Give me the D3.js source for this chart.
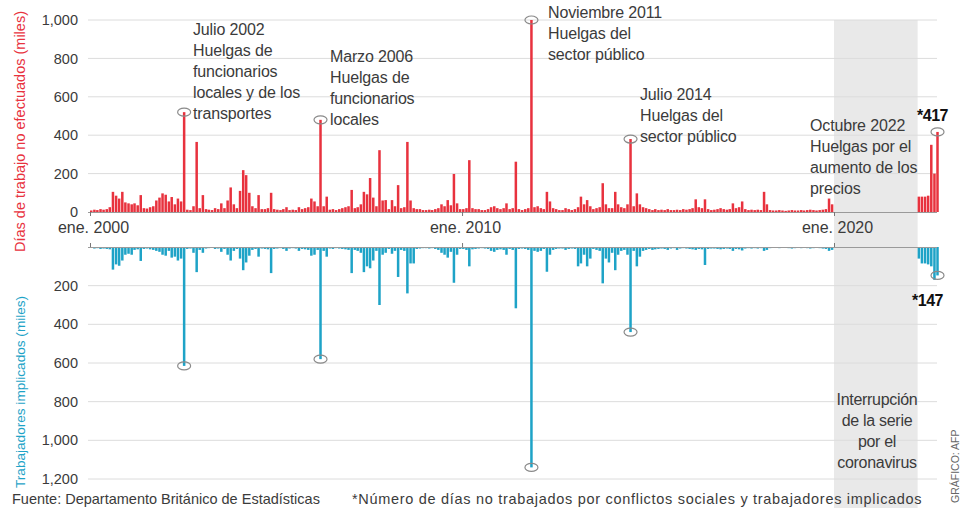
<!DOCTYPE html>
<html><head><meta charset="utf-8">
<script src="https://cdn.jsdelivr.net/npm/d3@7"></script>
<style>
body{margin:0;background:#fff}
svg{display:block}
text{font-family:"Liberation Sans",Arial,sans-serif}
</style>
</head><body>
<svg id="c" width="969" height="508"></svg>
<script>
// ---- DATA (miles) ----
const dias_2000_2019 = [
  8, 12, 10, 15, 12, 15, 25, 105, 85, 70, 105, 50,      // 2000
  45, 40, 45, 35, 88, 20, 18, 25, 30, 60, 75, 97,       // 2001
  90, 55, 78, 40, 70, 55, 520, 12, 10, 30, 365, 20,     // 2002
  88, 15, 12, 10, 20, 15, 45, 20, 60, 128, 40, 20,      // 2003
  110, 218, 192, 100, 30, 20, 88, 15, 15, 20, 100, 15,  // 2004
  12, 10, 15, 25, 10, 12, 10, 25, 15, 20, 25, 70,       // 2005
  55, 30, 480, 30, 80, 12, 15, 10, 15, 20, 25, 30,      // 2006
  115, 20, 25, 40, 105, 92, 177, 75, 30, 322, 60, 62,   // 2007
  15, 62, 30, 140, 20, 25, 365, 60, 20, 15, 15, 10,     // 2008
  10, 12, 10, 15, 20, 40, 30, 62, 35, 198, 45, 15,      // 2009
  15, 20, 270, 20, 15, 15, 10, 10, 15, 25, 30, 20,      // 2010
  15, 20, 45, 15, 20, 262, 15, 10, 15, 20, 1000, 25,    // 2011
  30, 20, 15, 105, 55, 20, 15, 10, 10, 20, 15, 10,      // 2012
  15, 25, 80, 40, 62, 30, 15, 20, 25, 150, 40, 20,      // 2013
  20, 105, 40, 25, 20, 40, 380, 30, 97, 40, 25, 20,     // 2014
  15, 10, 15, 10, 12, 10, 15, 10, 10, 12, 10, 15,       // 2015
  12, 15, 20, 66, 25, 20, 66, 15, 10, 12, 15, 20,       // 2016
  15, 12, 15, 45, 20, 25, 55, 15, 10, 12, 10, 12,       // 2017
  10, 105, 40, 10, 8, 8, 10, 8, 6, 8, 10, 8,            // 2018
  8, 10, 8, 10, 12, 10, 8, 10, 12, 15, 70, 40           // 2019
];
const trab_2000_2019 = [
  5, 8, 6, 10, 8, 10, 12, 117, 90, 97, 70, 40,          // 2000
  35, 40, 15, 12, 72, 10, 8, 12, 15, 20, 25, 40,        // 2001
  45, 20, 55, 50, 70, 60, 615, 10, 8, 30, 130, 15,      // 2002
  30, 8, 6, 5, 10, 8, 25, 10, 40, 70, 20, 10,           // 2003
  60, 120, 80, 45, 15, 10, 50, 8, 10, 12, 135, 10,      // 2004
  8, 6, 10, 20, 8, 6, 8, 20, 10, 12, 15, 45,            // 2005
  40, 15, 580, 20, 50, 8, 10, 6, 8, 10, 12, 15,         // 2006
  135, 15, 20, 30, 130, 100, 110, 70, 20, 300, 40, 30,  // 2007
  10, 35, 20, 155, 15, 20, 240, 85, 85, 10, 8, 6,       // 2008
  6, 8, 6, 10, 15, 30, 40, 55, 25, 185, 40, 10,         // 2009
  10, 15, 100, 12, 10, 8, 6, 8, 10, 20, 25, 15,         // 2010
  12, 15, 40, 10, 15, 317, 10, 8, 10, 15, 1140, 20,     // 2011
  25, 20, 10, 128, 40, 15, 10, 8, 8, 15, 10, 8,         // 2012
  10, 100, 85, 40, 100, 60, 10, 15, 20, 188, 60, 80,    // 2013
  30, 120, 40, 20, 15, 40, 440, 20, 100, 50, 20, 15,    // 2014
  10, 15, 12, 10, 8, 10, 15, 8, 6, 15, 8, 6,            // 2015
  8, 10, 12, 15, 10, 12, 93, 10, 8, 8, 10, 12,          // 2016
  10, 8, 10, 20, 10, 12, 18, 8, 6, 8, 6, 8,             // 2017
  6, 20, 15, 6, 5, 5, 6, 5, 4, 6, 8, 6,                 // 2018
  5, 6, 5, 6, 8, 6, 5, 6, 8, 10, 20, 15                 // 2019
];
const meses_2022 = ["2022-04", "2022-05", "2022-06", "2022-07", "2022-08", "2022-09", "2022-10"];
const dias_2022 = [80, 80, 80, 85, 350, 200, 417];
const trab_2022 = [60, 85, 85, 90, 100, 170, 147];

const ticksDias = [0, 200, 400, 600, 800, 1000];
const ticksTrab = [200, 400, 600, 800, 1000, 1200];
const ticksAnios = ["2000-01", "2010-01", "2020-01"];
const interrupcion = ["2020-01", "2022-04"];
const mesesDestacados = ["2002-07", "2006-03", "2011-11", "2014-07", "2022-10"];

const notas = [
  ["Julio 2002", "Huelgas de", "funcionarios", "locales y de los", "transportes"],
  ["Marzo 2006", "Huelgas de", "funcionarios", "locales"],
  ["Noviembre 2011", "Huelgas del", "sector público"],
  ["Julio 2014", "Huelgas del", "sector público"],
  ["Octubre 2022", "Huelgas por el", "aumento de los", "precios"]
];
const notaInterrupcion = ["Interrupción", "de la serie", "por el", "coronavirus"];
const tituloDias = "Días de trabajo no efectuados (miles)";
const tituloTrab = "Trabajadores implicados (miles)";
const fuente = "Fuente: Departamento Británico de Estadísticas";
const nota = "*Número de días no trabajados por conflictos sociales y trabajadores implicados";
const credito = "GRÁFICO: AFP";

// ---- BUILD ----
const parse = d3.timeParse("%Y-%m");
const mesesLargos = d3.timeMonth.range(parse("2000-01"), parse("2020-01"));
const rows = mesesLargos.map((d, i) => ({date: d, dias: dias_2000_2019[i], trab: trab_2000_2019[i]}))
  .concat(meses_2022.map((m, i) => ({date: parse(m), dias: dias_2022[i], trab: trab_2022[i]})));

const RED = "#e8323e", BLUE = "#1ea3c7", GRID = "#dcdcdc", TXT = "#3b3b3b";
const FONT = "'Liberation Sans',Arial,sans-serif";
const svg = d3.select("#c");

const x = d3.scaleTime().domain([parse("2000-01"), parse("2020-01")]).range([90, 834]);
const yTop = d3.scaleLinear().domain([0, 1000]).range([212, 20]);
const yBot = d3.scaleLinear().domain([0, 1200]).range([247, 479]);
const xL = 88, xR = 937;
const barW = 2.5;

// interruption band
svg.append("rect")
  .attr("x", x(parse(interrupcion[0]))).attr("y", 20)
  .attr("width", x(parse(interrupcion[1])) - x(parse(interrupcion[0])))
  .attr("height", 508 - 20).attr("fill", "#e9e9e9");

// grid top
svg.append("g").selectAll("line").data(ticksDias.filter(t => t > 0)).join("line")
  .attr("x1", xL).attr("x2", xR).attr("y1", d => yTop(d)).attr("y2", d => yTop(d))
  .attr("stroke", GRID).attr("stroke-width", 1);
svg.append("g").attr("transform", "translate(78,0)")
  .call(d3.axisLeft(yTop).tickValues(ticksDias).tickSize(0).tickPadding(0).tickFormat(d3.format(",")))
  .call(g => g.select(".domain").remove())
  .call(g => g.selectAll("text").attr("fill", TXT).attr("font-size", 14.5).attr("font-family", FONT));

// grid bottom
svg.append("g").selectAll("line").data(ticksTrab).join("line")
  .attr("x1", xL).attr("x2", xR).attr("y1", d => yBot(d)).attr("y2", d => yBot(d))
  .attr("stroke", GRID).attr("stroke-width", 1);
svg.append("g").attr("transform", "translate(78,0)")
  .call(d3.axisLeft(yBot).tickValues(ticksTrab).tickSize(0).tickPadding(0).tickFormat(d3.format(",")))
  .call(g => g.select(".domain").remove())
  .call(g => g.selectAll("text").attr("fill", TXT).attr("font-size", 14.5).attr("font-family", FONT));

// bars
svg.append("g").selectAll("rect").data(rows).join("rect")
  .attr("x", d => x(d.date)).attr("width", barW)
  .attr("y", d => yTop(d.dias)).attr("height", d => yTop(0) - yTop(d.dias))
  .attr("fill", RED);
svg.append("g").selectAll("rect").data(rows).join("rect")
  .attr("x", d => x(d.date)).attr("width", barW)
  .attr("y", yBot(0)).attr("height", d => yBot(d.trab) - yBot(0))
  .attr("fill", BLUE);

// baselines
[yTop(0), yBot(0)].forEach(yy => svg.append("line").attr("x1", xL).attr("x2", xR)
  .attr("y1", yy + 0.5).attr("y2", yy + 0.5).attr("stroke", "#9a9a9a").attr("stroke-width", 1));

// x axis ticks + labels
const tickDates = ticksAnios.map(parse);
svg.append("g").attr("transform", `translate(0,${yTop(0)})`)
  .call(d3.axisBottom(x).tickValues(tickDates).tickSize(4).tickPadding(6)
    .tickFormat(d => "ene. " + d3.timeFormat("%Y")(d)))
  .call(g => g.select(".domain").remove())
  .call(g => g.selectAll("line").attr("stroke", "#777"))
  .call(g => g.selectAll("text").attr("fill", TXT).attr("font-size", 16).attr("dx", 3)
    .attr("font-family", FONT));
svg.append("g").attr("transform", `translate(0,${yBot(0)})`)
  .call(d3.axisTop(x).tickValues(tickDates).tickSize(4).tickFormat(""))
  .call(g => g.select(".domain").remove())
  .call(g => g.selectAll("line").attr("stroke", "#777"));

// highlight ellipses
const destacados = mesesDestacados.map(m => rows.find(r => +r.date === +parse(m)));
svg.append("g").selectAll("ellipse").data(destacados).join("ellipse")
  .attr("cx", d => x(d.date) + barW / 2).attr("cy", d => yTop(d.dias))
  .attr("rx", 6.5).attr("ry", 4).attr("fill", "none").attr("stroke", "#8a8a8a").attr("stroke-width", 1.2);
svg.append("g").selectAll("ellipse").data(destacados).join("ellipse")
  .attr("cx", d => x(d.date) + barW / 2).attr("cy", d => yBot(d.trab))
  .attr("rx", 6.5).attr("ry", 4).attr("fill", "none").attr("stroke", "#8a8a8a").attr("stroke-width", 1.2);

// annotations
const notaPos = [[193, 35], [330, 62], [548, 18], [640, 100], [810, 131]];
notas.forEach((lines, i) => {
  const t = svg.append("text").attr("x", notaPos[i][0]).attr("y", notaPos[i][1])
    .attr("font-size", 16).attr("fill", TXT).attr("letter-spacing", -0.15);
  lines.forEach((l, j) => t.append("tspan").attr("x", notaPos[i][0]).attr("dy", j ? 21 : 0).text(l));
});
const ti = svg.append("text").attr("x", 877).attr("y", 405).attr("text-anchor", "middle")
  .attr("font-size", 16).attr("fill", TXT).attr("letter-spacing", -0.3);
notaInterrupcion.forEach((l, j) => ti.append("tspan").attr("x", 877).attr("dy", j ? 21 : 0).text(l));

// final values
const ult = rows[rows.length - 1];
svg.append("text").attr("x", 948).attr("y", 121).attr("text-anchor", "end")
  .attr("font-size", 16).attr("font-weight", "bold").attr("fill", "#111").attr("letter-spacing", -0.5)
  .text("*" + ult.dias);
svg.append("text").attr("x", 943).attr("y", 306).attr("text-anchor", "end")
  .attr("font-size", 16).attr("font-weight", "bold").attr("fill", "#111").attr("letter-spacing", -0.5)
  .text("*" + ult.trab);

// axis titles
svg.append("text").attr("transform", "translate(25,252) rotate(-90)")
  .attr("font-size", 14.5).attr("fill", RED).text(tituloDias);
svg.append("text").attr("transform", "translate(25,488) rotate(-90)")
  .attr("font-size", 13.6).attr("fill", BLUE).text(tituloTrab);

// footer
svg.append("text").attr("x", 12).attr("y", 504).attr("font-size", 14.5).attr("fill", TXT).text(fuente);
svg.append("text").attr("x", 352).attr("y", 504).attr("font-size", 14.5).attr("fill", TXT)
  .attr("letter-spacing", 0.7).text(nota);
svg.append("text").attr("transform", "translate(959,503) rotate(-90)")
  .attr("font-size", 10.5).attr("fill", "#666").text(credito);
</script>
</body></html>
